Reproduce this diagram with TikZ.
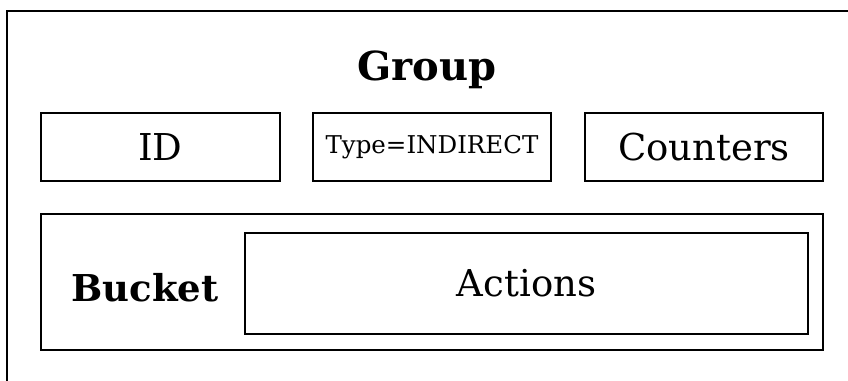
\documentclass[tikz,border=0pt]{standalone}
\usepackage{fontspec}
\setmainfont{DejaVu Serif}
\tikzset{
  field/.style={draw, line width=2pt, inner sep=0pt, minimum height=68pt},
  big/.style={font=\fontsize{37}{45}\selectfont}
}
\begin{document}
\begin{tikzpicture}[x=1pt, y=-1pt]
      \useasboundingbox (0, 0) rectangle (848, 380);
      \clip (0, 0) rectangle (848, 380);
      \draw[line width=2pt](7, 11) rectangle (870, 400);

        \node[font=\fontsize{40}{48}\selectfont\bfseries] (group) at(427, 70){Group};

        \node[field, big] [minimum width=239pt] (id) at(160.5, 147){ID};
        \node[field, font=\fontsize{24.5}{30}\selectfont, minimum width=238pt] (type) at(432, 147){Type=INDIRECT};
        \node[field, big, minimum width=238pt] (counters) at(704, 147){Counters};

      \node[field, minimum width=782pt, minimum height=136pt] (bucket) at(432, 282){};
        \node[font=\fontsize{37}{45}\selectfont\bfseries] (bucketlabel) at(145, 288){Bucket};
        \node[field, big, minimum width=563pt, minimum height=101pt] (actions) at(526.5, 283.5){Actions};

    \end{tikzpicture}
\end{document}
